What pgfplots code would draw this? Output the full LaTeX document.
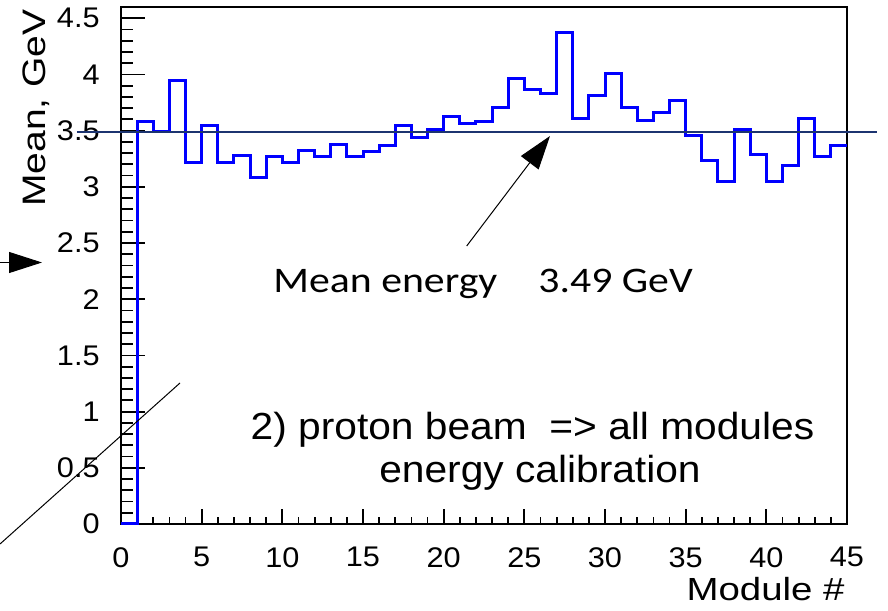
\documentclass[border=0pt]{standalone}
\usepackage{pgfplots}
\pgfplotsset{compat=1.18}
\usepgfplotslibrary{}
\usepackage{pgfplotstable}
\usetikzlibrary{arrows.meta}
\usepackage{fontspec}
\setmainfont{Liberation Sans}
\newfontfamily\ticksf[FakeStretch=1.08]{Liberation Sans}
\newfontfamily\labsf[FakeStretch=1.2]{Liberation Sans}
\newfontfamily\notesf[FakeStretch=1.08]{Liberation Sans}
\newfontfamily\calib[FakeStretch=1.16]{Carlito}
\definecolor{histblue}{RGB}{0,0,255}
\definecolor{meanline}{RGB}{28,52,112}

% mean reconstructed energy per module (bin left edge, value)
\pgfplotstableread{
x y
0 0
1 3.58
2 3.49
3 3.95
4 3.22
5 3.55
6 3.22
7 3.28
8 3.08
9 3.27
10 3.22
11 3.32
12 3.27
13 3.38
14 3.27
15 3.31
16 3.37
17 3.55
18 3.44
19 3.51
20 3.63
21 3.56
22 3.58
23 3.71
24 3.96
25 3.87
26 3.83
27 4.37
28 3.61
29 3.81
30 4.01
31 3.71
32 3.59
33 3.66
34 3.77
35 3.46
36 3.23
37 3.05
38 3.51
39 3.29
40 3.05
41 3.19
42 3.61
43 3.27
44 3.37
45 3.37
}\modmean

\begin{document}
\begin{tikzpicture}
\useasboundingbox (0,0) rectangle (444pt,305pt);
\pgfplotsset{
  frame/.style={scale only axis, width=363pt, height=258.5pt,
    xmin=0, xmax=45, ymin=0, ymax=4.6,
    at={(60.5pt,43pt)}, anchor=south west,
    tick pos=left, tick align=inside,
    tick style={line width=0.9pt, black},
    /pgf/number format/assume math mode=true},
}
% frame and x ticks
\begin{axis}[frame,
  axis line style={line width=1.4pt},
  xtick={0,5,10,15,20,25,30,35,40,45}, minor x tick num=4,
  ytick=\empty,
  major tick length=7.5pt, minor tick length=3.5pt,
  xticklabel style={font=\ticksf\fontsize{14.2}{14.2}\selectfont,
    inner sep=0pt, anchor=north, yshift=-11.5pt},
]
\end{axis}
% y ticks and data
\begin{axis}[frame,
  axis line style={draw=none},
  xtick=\empty,
  ytick={0,0.5,1,1.5,2,2.5,3,3.5,4,4.5}, minor y tick num=4,
  major tick length=12pt, minor tick length=6pt,
  yticklabel style={font=\ticksf\fontsize{14.2}{14.2}\selectfont,
    inner sep=0pt, anchor=east, xshift=-10.5pt},
  clip=false,
]
\addplot[const plot, histblue, line width=1.5pt] table[x=x, y=y] {\modmean};
\addplot[meanline, line width=1pt] coordinates {(-2.73,3.49) (46.87,3.49)};
\end{axis}

% annotations, in image-style coordinates (origin top left)
\begin{scope}[x=0.5pt, y=-0.5pt, yshift=305pt]
\draw[line width=0.5pt, -{Triangle[length=16.8pt, width=11pt]}] (466.7,246) -- (550,136);
\draw[line width=0.5pt, -{Triangle[length=16.5pt, width=10.5pt]}] (0,262.5) -- (42,262.5);
\draw[line width=0.5pt] (0,544) -- (180,383);
\node[font=\calib\fontsize{18}{18}\selectfont, anchor=base west, inner sep=0pt] at (273,293) {Mean energy};
\node[font=\calib\fontsize{18}{18}\selectfont, anchor=base west, inner sep=0pt] at (538,293) {3.49 GeV};
\node[font=\notesf\fontsize{18.85}{18.85}\selectfont, anchor=base, inner sep=0pt] at (532.5,440) {2) proton beam\ \ => all modules};
\node[font=\notesf\fontsize{18.85}{18.85}\selectfont, anchor=base, inner sep=0pt] at (540,483) {energy calibration};
\node[font=\labsf\fontsize{16}{16}\selectfont, anchor=base east, inner sep=0pt] at (845,600) {Module \#};
\node[font=\labsf\fontsize{16.25}{16.25}\selectfont, rotate=90, anchor=base east, inner sep=0pt] at (45,9) {Mean, GeV};
\end{scope}
\end{tikzpicture}
\end{document}
